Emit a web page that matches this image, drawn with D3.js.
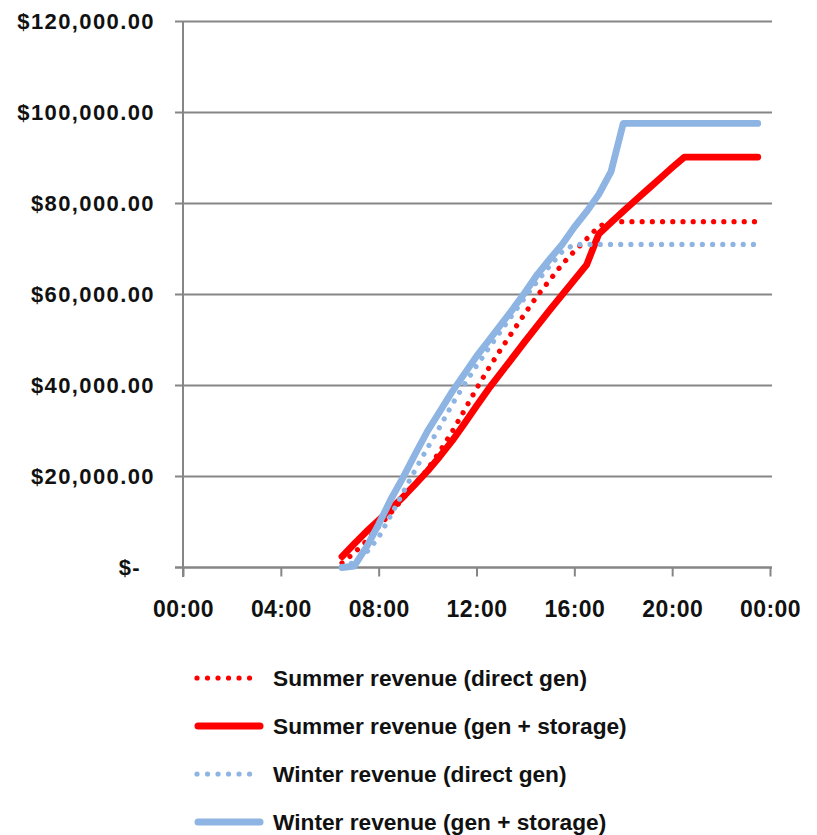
<!DOCTYPE html>
<html>
<head>
<meta charset="utf-8">
<script src="https://cdn.jsdelivr.net/npm/d3@7"></script>
<style>
  html, body { margin: 0; padding: 0; background: #ffffff; }
  svg { display: block; }
</style>
</head>
<body>
<svg id="chart" width="817" height="835"></svg>
<script>
// ---- data (values in US$) ----
const times = ["06:30","07:00","07:30","08:00","08:30","09:00","09:30","10:00","10:30","11:00",
  "11:30","12:00","12:30","13:00","13:30","14:00","14:30","15:00","15:30","16:00",
  "16:30","17:00","17:30","18:00","18:30","19:00","19:30","20:00","20:30","21:00",
  "21:30","22:00","22:30","23:00","23:30"];

const summerDirect = [1000,3200,5800,9000,12000,15200,18400,21600,25500,29800,
  34500,39300,43800,48000,52000,56000,59800,63200,66600,69500,
  72200,75000,76000,76000,76000,76000,76000,76000,76000,76000,
  76000,76000,76000,76000,76000];

const summerStorage = [2400,5200,7900,10400,12900,15500,18300,21200,24400,27800,
  31600,35500,39300,42800,46300,49800,53200,56600,59900,63200,
  66500,73300,75800,78300,80700,83100,85500,87900,90200,90200,
  90200,90200,90200,90200,90200];

const winterDirect = [0,1200,3300,6600,11500,16500,21500,26300,30900,35800,
  40200,44300,48200,52000,55800,59500,63000,66300,69400,71000,
  71000,71000,71000,71000,71000,71000,71000,71000,71000,71000,
  71000,71000,71000,71000,71000];

const winterStorage = [0,300,4500,9500,15000,19800,25000,30000,34300,38600,
  42500,46400,49900,53400,56900,60600,64500,67800,71000,74800,
  78200,82000,87000,97600,97600,97600,97600,97600,97600,97600,
  97600,97600,97600,97600,97600];

const seriesNames = ["Summer revenue (direct gen)", "Summer revenue (gen + storage)",
  "Winter revenue (direct gen)", "Winter revenue (gen + storage)"];
const yTicks = [0, 20000, 40000, 60000, 80000, 100000, 120000];
const xTickLabels = ["00:00","04:00","08:00","12:00","16:00","20:00","00:00"];

// ---- setup ----
const svg = d3.select("#chart");
const parse = d3.timeParse("%H:%M");
const day0 = parse("00:00");
const day1 = d3.timeDay.offset(day0, 1);

const x = d3.scaleTime().domain([day0, day1]).range([183, 770]);
const y = d3.scaleLinear().domain([0, 120000]).range([567.5, 21.5]);

const axisColor = "#868686";
const labelFont = "'Liberation Sans', Arial, sans-serif";

// gridlines (extend left as tick marks)
const gridG = svg.append("g");
gridG.selectAll("line").data(yTicks).enter().append("line")
  .attr("x1", 175).attr("x2", 772)
  .attr("y1", d => y(d)).attr("y2", d => y(d))
  .attr("stroke", axisColor).attr("stroke-width", 2);

// y axis line
svg.append("line")
  .attr("x1", x(day0)).attr("x2", x(day0))
  .attr("y1", y(120000)).attr("y2", 577)
  .attr("stroke", axisColor).attr("stroke-width", 2);

// y labels
const fmt = d3.format(",.2f");
svg.append("g").selectAll("text").data(yTicks).enter().append("text")
  .attr("x", d => d === 0 ? 141 : 155)
  .attr("y", d => y(d))
  .attr("dy", "0.36em")
  .attr("text-anchor", "end")
  .attr("font-family", labelFont)
  .attr("font-weight", "bold")
  .attr("font-size", 22)
  .attr("letter-spacing", "1.4px")
  .attr("fill", "#111")
  .text(d => d === 0 ? "$-" : "$" + fmt(d));

// x axis via d3.axisBottom
const xTickVals = d3.range(0, 7).map(i => d3.timeHour.offset(day0, i * 4));
const xAxis = d3.axisBottom(x)
  .tickValues(xTickVals)
  .tickFormat((d, i) => xTickLabels[i])
  .tickSize(9)
  .tickPadding(24)
  .tickSizeOuter(0);
const xg = svg.append("g").attr("transform", `translate(0,${y(0)})`).call(xAxis);
xg.select(".domain").attr("stroke", axisColor).attr("stroke-width", 2)
  .attr("d", `M175,0H772`);
xg.selectAll(".tick line").attr("stroke", axisColor).attr("stroke-width", 2);
xg.selectAll(".tick text")
  .attr("font-family", labelFont)
  .attr("font-weight", "bold")
  .attr("font-size", 23)
  .attr("letter-spacing", "0.4px")
  .attr("fill", "#111");

// ---- series ----
const red = "#FF0000", blue = "#8DB4E2";
const series = [
  {name: seriesNames[0], values: summerDirect, color: red, dotted: true},
  {name: seriesNames[1], values: summerStorage, color: red, dotted: false},
  {name: seriesNames[2], values: winterDirect, color: blue, dotted: true},
  {name: seriesNames[3], values: winterStorage, color: blue, dotted: false}
];

const line = d3.line()
  .x(d => x(d.t))
  .y(d => y(d.v));

const plotG = svg.append("g");
series.forEach(s => {
  const pts = times.map((t, i) => ({t: parse(t), v: s.values[i]}));
  const p = plotG.append("path")
    .datum(pts)
    .attr("d", line)
    .attr("fill", "none")
    .attr("stroke", s.color)
    .attr("stroke-linecap", "round")
    .attr("stroke-linejoin", "round");
  if (s.dotted) {
    p.attr("stroke-width", 5.2).attr("stroke-dasharray", "0.01 10.2");
  } else {
    p.attr("stroke-width", 6.8);
  }
});

// ---- legend ----
const legendRows = [678, 726, 774, 822];
const lg = svg.append("g");
series.forEach((s, i) => {
  const yy = legendRows[i];
  const l = lg.append("line")
    .attr("x1", s.dotted ? 197 : 198).attr("x2", 260)
    .attr("y1", yy).attr("y2", yy)
    .attr("stroke", s.color)
    .attr("stroke-linecap", "round");
  if (s.dotted) l.attr("stroke-width", 5.2).attr("stroke-dasharray", "0.01 10.5");
  else l.attr("stroke-width", 7);
  lg.append("text")
    .attr("x", 273).attr("y", yy).attr("dy", "0.36em")
    .attr("font-family", labelFont)
    .attr("font-weight", "bold")
    .attr("font-size", 22.7)
    .attr("fill", "#111")
    .text(s.name);
});
</script>
</body>
</html>
